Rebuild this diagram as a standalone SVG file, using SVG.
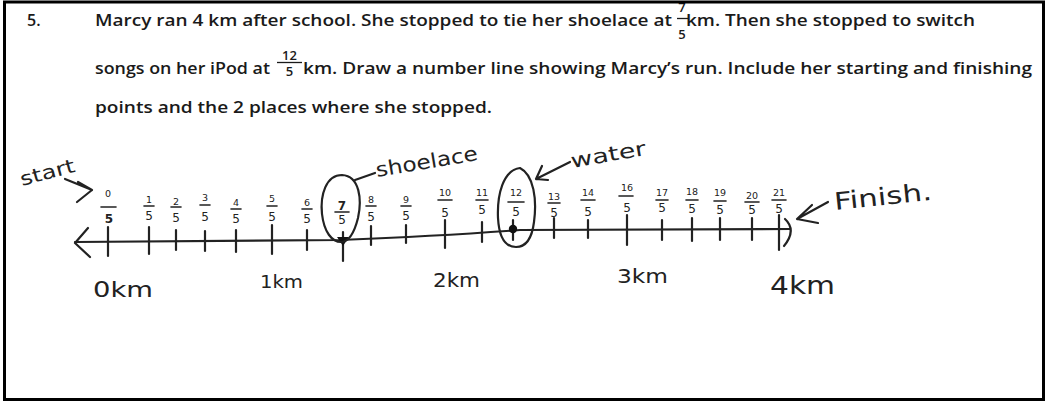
<svg xmlns="http://www.w3.org/2000/svg" width="1046" height="402" viewBox="0 0 1046 402">
<style>
.q{font-family:"Open Sans","Liberation Sans",sans-serif;font-size:16px;font-weight:600;fill:#1a1a1a}
.qf{font-family:"Open Sans","Liberation Sans",sans-serif;font-size:13px;font-weight:600;fill:#1a1a1a;text-anchor:middle}
.hw{font-family:"DejaVu Sans","Liberation Sans",sans-serif;fill:#222}
.n{font-family:"DejaVu Sans","Liberation Sans",sans-serif;font-size:9.5px;fill:#222;text-anchor:middle}
.d{font-family:"DejaVu Sans","Liberation Sans",sans-serif;font-size:12px;fill:#222;text-anchor:middle}
.ink{fill:none;stroke:#222;stroke-width:2.2;stroke-linecap:round;stroke-linejoin:round}
.bar{stroke:#222;stroke-width:1.6;stroke-linecap:round}
</style>
<rect x="0" y="0" width="1046" height="402" fill="#fff"/>
<g id="question">
<text class="q" x="27" y="26" font-weight="bold">5.</text>
<text class="q" x="95" y="26" textLength="577" lengthAdjust="spacingAndGlyphs">Marcy ran 4 km after school. She stopped to tie her shoelace at</text>
<text class="qf" x="682" y="12">7</text>
<line x1="677" y1="18.5" x2="688" y2="18.5" stroke="#1a1a1a" stroke-width="1.3"/>
<text class="qf" x="682" y="39">5</text>
<text class="q" x="686" y="26" textLength="289" lengthAdjust="spacingAndGlyphs">km. Then she stopped to switch</text>
<text class="q" x="95" y="74" textLength="175" lengthAdjust="spacingAndGlyphs">songs on her iPod at</text>
<text class="qf" x="289.5" y="60">12</text>
<line x1="277" y1="62.5" x2="302" y2="62.5" stroke="#1a1a1a" stroke-width="1.3"/>
<text class="qf" x="289.5" y="76">5</text>
<text class="q" x="303" y="74" textLength="729" lengthAdjust="spacingAndGlyphs">km. Draw a number line showing Marcy’s run. Include her starting and finishing</text>
<text class="q" x="95" y="113" textLength="397" lengthAdjust="spacingAndGlyphs">points and the 2 places where she stopped.</text>
</g>
<g id="number-line">
<path class="ink" d="M75,242 L340,240 Q440,236 520,230 L790,229"/>
<path class="ink" d="M88,228 L75,243 L90,257"/>
<g id="ticks" class="ink">
<path d="M108,227 V256"/><path d="M149,227 V254"/><path d="M176,230 V250"/><path d="M205,231 V251"/>
<path d="M236,230 V252"/><path d="M272,225 V254"/><path d="M307,230 V250"/><path d="M343,232 V261"/>
<path d="M371,226 V245"/><path d="M406,225 V243"/><path d="M445,220 V248"/><path d="M482,222 V242"/>
<path d="M513,220 V240"/><path d="M554,218 V238"/><path d="M588,220 V238"/><path d="M627,215 V245"/>
<path d="M662,220 V240"/><path d="M692,218 V241"/><path d="M720,218 V240"/><path d="M752,218 V240"/>
<path d="M779,215 V250"/>
<path d="M785,219 Q797,230 784,246"/>
</g>
<path d="M337,237 L349,237 L343,246 Z" fill="#111"/>
<circle cx="513" cy="229" r="4.2" fill="#111"/>
</g>
<g id="fractions">
<g><text class="n" x="108" y="197">0</text><line class="bar" x1="101" y1="207" x2="116" y2="207"/><text class="d" x="109" y="223" font-weight="bold">5</text></g>
<g><text class="n" x="149" y="203">1</text><line class="bar" x1="144" y1="206" x2="154" y2="206"/><text class="d" x="149" y="220">5</text></g>
<g><text class="n" x="176" y="205">2</text><line class="bar" x1="171" y1="207" x2="181" y2="207"/><text class="d" x="176" y="222">5</text></g>
<g><text class="n" x="205" y="201">3</text><line class="bar" x1="200" y1="205" x2="210" y2="205"/><text class="d" x="205" y="221">5</text></g>
<g><text class="n" x="236" y="206">4</text><line class="bar" x1="231" y1="209" x2="241" y2="209"/><text class="d" x="236" y="223">5</text></g>
<g><text class="n" x="272" y="202">5</text><line class="bar" x1="267" y1="206" x2="277" y2="206"/><text class="d" x="272" y="221">5</text></g>
<g><text class="n" x="307" y="206">6</text><line class="bar" x1="302" y1="209" x2="312" y2="209"/><text class="d" x="307" y="223">5</text></g>
<g><text class="d" x="342" y="210" font-weight="bold">7</text><line class="bar" x1="335" y1="212" x2="349" y2="212"/><text class="d" x="342" y="224">5</text></g>
<g><text class="n" x="371" y="203">8</text><line class="bar" x1="366" y1="206" x2="376" y2="206"/><text class="d" x="371" y="221">5</text></g>
<g><text class="n" x="406" y="203">9</text><line class="bar" x1="401" y1="206" x2="411" y2="206"/><text class="d" x="406" y="220">5</text></g>
<g><text class="n" x="445" y="196">10</text><line class="bar" x1="438" y1="200" x2="452" y2="200"/><text class="d" x="445" y="217">5</text></g>
<g><text class="n" x="482" y="196">11</text><line class="bar" x1="476" y1="200" x2="488" y2="200"/><text class="d" x="482" y="214">5</text></g>
<g><text class="n" x="516" y="196">12</text><line class="bar" x1="508" y1="202" x2="524" y2="202"/><text class="d" x="516" y="216">5</text></g>
<g><text class="n" x="554" y="200">13</text><line class="bar" x1="548" y1="203" x2="560" y2="203"/><text class="d" x="554" y="217">5</text></g>
<g><text class="n" x="588" y="196">14</text><line class="bar" x1="581" y1="200" x2="595" y2="200"/><text class="d" x="588" y="216">5</text></g>
<g><text class="n" x="627" y="191">16</text><line class="bar" x1="619" y1="196" x2="633" y2="196"/><text class="d" x="627" y="212">5</text></g>
<g><text class="n" x="662" y="196">17</text><line class="bar" x1="656" y1="200" x2="668" y2="200"/><text class="d" x="662" y="212">5</text></g>
<g><text class="n" x="692" y="195">18</text><line class="bar" x1="686" y1="200" x2="698" y2="200"/><text class="d" x="692" y="213">5</text></g>
<g><text class="n" x="720" y="196">19</text><line class="bar" x1="714" y1="201" x2="726" y2="201"/><text class="d" x="720" y="214">5</text></g>
<g><text class="n" x="752" y="199">20</text><line class="bar" x1="745" y1="202" x2="759" y2="202"/><text class="d" x="752" y="214">5</text></g>
<g><text class="n" x="779" y="196">21</text><line class="bar" x1="772" y1="200" x2="786" y2="200"/><text class="d" x="779" y="213">5</text></g>
</g>
<g id="stops">
<path class="ink" d="M342,175 C360,176 362,200 358,218 C354,234 348,242 341,242 C332,242 324,232 322,214 C320,195 326,175 342,175 Z"/>
<path class="ink" d="M520,168 C534,175 537,200 534,222 C532,238 526,247 516,247 C505,247 499,236 498,218 C497,195 503,170 520,168 Z"/>
</g>
<g id="annotations">
<text class="hw" x="22" y="186" font-size="19" transform="rotate(-15 22 186)" textLength="56" lengthAdjust="spacingAndGlyphs">start</text>
<path class="ink" d="M65,179 L92,190 M78,182 L92,190 L77,202"/>
<path class="ink" d="M355,180 L375,173"/>
<text class="hw" x="377" y="177" font-size="20" transform="rotate(-9.5 377 177)" textLength="103" lengthAdjust="spacingAndGlyphs">shoelace</text>
<path class="ink" d="M570,162 L536,179 M542,166 L536,179 L548,180"/>
<text class="hw" x="572" y="168" font-size="20" transform="rotate(-10 572 168)" textLength="76" lengthAdjust="spacingAndGlyphs">water</text>
<path class="ink" d="M828,202 L797,219 L818,223 M812,205 L797,219"/>
<text class="hw" x="835" y="210" font-size="24" transform="rotate(-6 835 210)" textLength="98" lengthAdjust="spacingAndGlyphs">Finish.</text>
<text class="hw" x="93" y="297" font-size="21" textLength="60" lengthAdjust="spacingAndGlyphs">0km</text>
<text class="hw" x="260" y="288" font-size="18" textLength="43" lengthAdjust="spacingAndGlyphs">1km</text>
<text class="hw" x="433" y="287" font-size="19" textLength="47" lengthAdjust="spacingAndGlyphs">2km</text>
<text class="hw" x="617" y="283" font-size="20" textLength="51" lengthAdjust="spacingAndGlyphs">3km</text>
<text class="hw" x="770" y="294" font-size="24" textLength="65" lengthAdjust="spacingAndGlyphs">4km</text>
</g>
<rect id="frame" x="4.5" y="2" width="1039" height="397.5" fill="none" stroke="#000" stroke-width="3"/>
</svg>
